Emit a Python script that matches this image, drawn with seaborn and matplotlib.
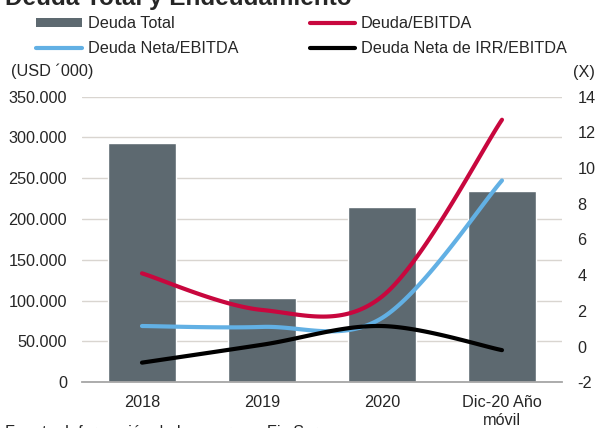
import numpy as np
import pandas as pd
import seaborn as sns
import matplotlib.pyplot as plt
from matplotlib.patches import Patch
from matplotlib.lines import Line2D
from matplotlib.ticker import FuncFormatter

# Data
categories = ["2018", "2019", "2020", "Dic-20 Año\nmóvil"]
deuda_total = [292700, 103000, 215000, 234600]
deuda_ebitda = [4.1, 2.05, 2.8, 12.7]
deuda_neta_ebitda = [1.15, 1.1, 1.6, 9.3]
deuda_neta_irr_ebitda = [-0.9, 0.1, 1.15, -0.2]

bar_color = "#5D6970"
red = "#C8073E"
blue = "#62B0E4"
black = "#000000"
grid_color = "#D9D5D0"
fs = 11.7

sns.set_style("white")
plt.rcParams["font.family"] = ["Liberation Sans", "DejaVu Sans"]
plt.rcParams["axes.unicode_minus"] = False


def excel_smooth(xs, ys, n=40):
    # Bezier smoothing like Excel "smoothed line" (Catmull-Rom style controls)
    pts = np.column_stack([xs, ys]).astype(float)
    out = []
    for i in range(len(pts) - 1):
        p0 = pts[max(i - 1, 0)]
        p1 = pts[i]
        p2 = pts[i + 1]
        p3 = pts[min(i + 2, len(pts) - 1)]
        c1 = p1 + (p2 - p0) / 6
        c2 = p2 - (p3 - p1) / 6
        t = np.linspace(0, 1, n)[:, None]
        seg = ((1 - t) ** 3) * p1 + 3 * ((1 - t) ** 2) * t * c1 + 3 * (1 - t) * t ** 2 * c2 + t ** 3 * p2
        out.append(seg if i == 0 else seg[1:])
    out = np.vstack(out)
    return out[:, 0], out[:, 1]


fig = plt.figure(figsize=(5.95, 4.28), dpi=100)
ax = fig.add_axes([0.1378, 0.1068, 0.8067, 0.6677])

df = pd.DataFrame({"cat": categories, "deuda": deuda_total})
sns.barplot(data=df, x="cat", y="deuda", color=bar_color, width=0.574,
            saturation=1, ax=ax)

ax.set_xlim(-0.5, len(categories) - 0.5)
ax.set_ylim(0, 350000)
ax.set_yticks(np.arange(0, 350001, 50000))
ax.yaxis.set_major_formatter(FuncFormatter(lambda v, p: f"{int(v):,}".replace(",", ".")))
ax.set_axisbelow(True)
ax.grid(axis="y", color=grid_color, linewidth=1.0)
ax.set_xlabel("")
ax.set_ylabel("")
for s in ["left", "right", "top"]:
    ax.spines[s].set_visible(False)
ax.spines["bottom"].set_color("#A6A6A6")
ax.spines["bottom"].set_linewidth(1.3)
ax.tick_params(axis="y", length=0, pad=10.8, labelsize=fs)
ax.tick_params(axis="x", length=0, pad=9.5, labelsize=fs)

# Ratios on secondary axis
ax2 = ax.twinx()
xpos = np.arange(len(categories))
series = [(deuda_ebitda, red), (deuda_neta_ebitda, blue), (deuda_neta_irr_ebitda, black)]
for vals, col in series:
    sx, sy = excel_smooth(xpos, vals)
    ax2.plot(sx, sy, color=col, linewidth=3.0, solid_capstyle="round")
ax2.set_ylim(-2, 14)
ax2.set_yticks(np.arange(-2, 15, 2))
ax2.tick_params(axis="y", length=0, pad=11.0, labelsize=fs)
for s in ["left", "right", "top", "bottom"]:
    ax2.spines[s].set_visible(False)
ax2.set_xlim(-0.5, len(categories) - 0.5)

# Axis unit labels
fig.text(11 / 595, 1 - 71 / 428, "(USD ´000)", fontsize=fs, ha="left", va="center")
fig.text(573 / 595, 1 - 72 / 428, "(X)", fontsize=fs, ha="left", va="center")

# Title (cut at the top) and source (cut at the bottom), as in the original
fig.text(5 / 595, 1 - 5 / 428, "Deuda Total y Endeudamiento", fontsize=17.5,
         fontweight="bold", ha="left", va="baseline")
fig.text(5 / 595, 1 - 437 / 428, "Fuente: Información de la empresa, Fix Scr",
         fontsize=fs, ha="left", va="baseline")

# Legend
handles = [
    Patch(facecolor=bar_color, edgecolor="none"),
    Line2D([0], [0], color=blue, linewidth=3.0, solid_capstyle="round"),
    Line2D([0], [0], color=red, linewidth=3.0, solid_capstyle="round"),
    Line2D([0], [0], color=black, linewidth=3.0, solid_capstyle="round"),
]
labels = ["Deuda Total", "Deuda Neta/EBITDA", "Deuda/EBITDA", "Deuda Neta de IRR/EBITDA"]
fig.legend(handles, labels, ncol=2, loc="upper left", bbox_to_anchor=(36 / 595, 1 - 16 / 428),
           frameon=False, fontsize=fs, borderpad=0, borderaxespad=0,
           handlelength=2.8, handleheight=0.5, handletextpad=0.37,
           columnspacing=4.4, labelspacing=0.62)

fig.savefig("out.png", dpi=100)
